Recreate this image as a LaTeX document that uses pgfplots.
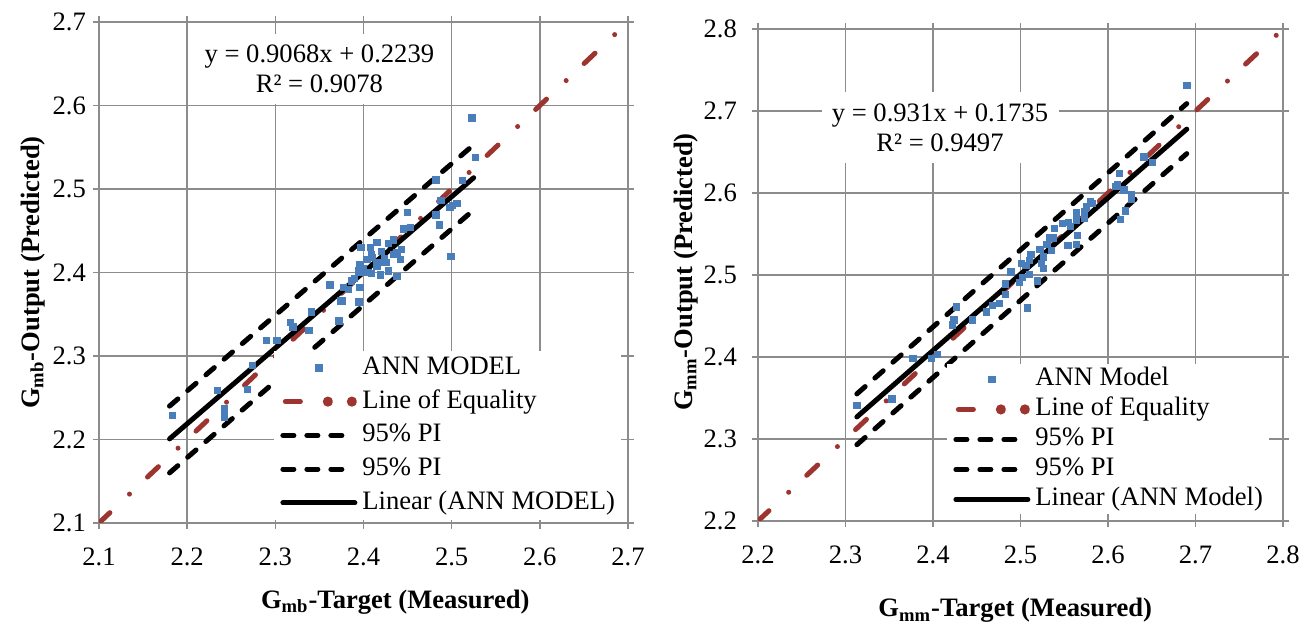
\documentclass[border=0pt]{standalone}
\usepackage{fontspec}
\setmainfont{Liberation Serif}
\usepackage{pgfplots}
\pgfplotsset{compat=1.18}
\definecolor{annblue}{RGB}{74,126,187}
\definecolor{eqred}{RGB}{158,52,48}
\definecolor{gridgray}{RGB}{140,140,140}
\newcommand{\fs}{\fontsize{13.3}{15}\selectfont}
\pgfplotsset{
  myaxis/.style={
    scale only axis,
    axis line style={gridgray, line width=0.7pt},
    grid=major, grid style={gridgray, line width=0.7pt},
    tick style={gridgray, line width=0.7pt},
    tick align=outside, major tick length=3pt,
    ticklabel style={font=\fs},
    xticklabel style={yshift=-6pt},
    label style={font=\fs},
    legend cell align=left,
  },
  annstyle/.style={only marks, mark=square*, mark size=1.6pt, color=annblue,
    legend image code/.code={\draw[##1] plot coordinates {(18pt,0pt)};}},
  eqstyle/.style={eqred, line width=2.5pt, line cap=round,
    dash pattern=on 7.5pt off 13.5pt on 0.01pt off 12.4pt,
    legend image code/.code={\draw[eqred, line width=2.5pt, line cap=round] (1.25pt,0pt) -- (11.5pt,0pt);
      \fill[eqred] (22.5pt,0pt) circle (1.2pt); \fill[eqred] (34.5pt,0pt) circle (1.2pt);}},
  pistyle/.style={black, line width=2.5pt, line cap=round, dash pattern=on 5.5pt off 6.5pt,
    legend image code/.code={\draw[##1] (0pt,0pt) -- (34pt,0pt);}},
  linstyle/.style={black, line width=2.5pt, line cap=round,
    legend image code/.code={\draw[##1] (0pt,0pt) -- (36pt,0pt);}},
}
\begin{document}
\begin{tikzpicture}
\useasboundingbox (0,0) rectangle (656.5pt,312.5pt);
% ---------------- left
\begin{axis}[myaxis,
  at={(49.5pt,51pt)}, anchor=south west,
  width=264.5pt, height=250.5pt,
  xmin=2.1, xmax=2.7, ymin=2.1, ymax=2.7,
  xtick={2.1,2.2,2.3,2.4,2.5,2.6,2.7}, xticklabels={2.1,2.2,2.3,2.4,2.5,2.6,2.7},
  ytick={2.1,2.2,2.3,2.4,2.5,2.6,2.7}, yticklabels={2.1,2.2,2.3,2.4,2.5,2.6,2.7},
  xlabel={\textbf{G\textsubscript{mb}-Target (Measured)}},
  ylabel={\textbf{G\textsubscript{mb}-Output (Predicted)}},
  xlabel style={at={(axis description cs:0.56,-0.1697)}, anchor=base},
  ylabel style={at={(axis description cs:-0.1134,0.5)}, anchor=base},
  legend style={at={(axis description cs:0.3308,0.3443)}, anchor=north west,
    draw=none, fill=white, font=\fs, inner xsep=3pt, inner ysep=0pt,
    column sep=2.5pt, row sep=0pt,
    nodes={inner xsep=0pt, inner ysep=1.7pt, text height=10pt, text depth=3.5pt}},
]
\addplot[annstyle] coordinates {
(2.183,2.229) (2.234,2.259) (2.242,2.237) (2.242,2.232) (2.242,2.227) (2.268,2.260)
(2.274,2.289) (2.290,2.319) (2.302,2.319) (2.317,2.340) (2.320,2.335) (2.338,2.331)
(2.341,2.353) (2.362,2.385) (2.372,2.342) (2.374,2.366) (2.376,2.366) (2.377,2.382)
(2.383,2.380) (2.395,2.365) (2.396,2.382) (2.394,2.402) (2.398,2.400) (2.396,2.410)
(2.404,2.416) (2.397,2.430) (2.408,2.430) (2.415,2.436) (2.409,2.422) (2.415,2.412)
(2.421,2.412) (2.426,2.412) (2.415,2.408) (2.428,2.402) (2.438,2.395) (2.428,2.435)
(2.434,2.439) (2.443,2.428) (2.438,2.424) (2.434,2.422) (2.442,2.416) (2.445,2.452)
(2.453,2.454) (2.450,2.472) (2.400,2.405) (2.405,2.400) (2.410,2.418) (2.420,2.425)
(2.419,2.397) (2.409,2.399) (2.424,2.417) (2.390,2.393) (2.386,2.390)
(2.482,2.511) (2.512,2.510) (2.488,2.486) (2.498,2.478) (2.506,2.483) (2.501,2.480)
(2.482,2.469) (2.486,2.457) (2.499,2.419) (2.523,2.585) (2.527,2.538)
};
\addlegendentry{ANN MODEL}
\addplot[eqstyle] coordinates {(2.1,2.1) (2.7,2.7)};
\addlegendentry{Line of Equality}
\addplot[pistyle] coordinates {(2.18,2.240) (2.525,2.553)};
\addlegendentry{95\% PI}
\addplot[pistyle] coordinates {(2.18,2.160) (2.525,2.475)};
\addlegendentry{95\% PI}
\addplot[linstyle] coordinates {(2.18,2.2007) (2.525,2.5135)};
\addlegendentry{Linear (ANN MODEL)}
\node[fill=white, align=center, font=\fs, inner sep=0pt, minimum width=125pt, minimum height=35pt]
  at (axis cs:2.350,2.6437) {y = 0.9068x + 0.2239\\R² = 0.9078};
\end{axis}
% ---------------- right
\begin{axis}[myaxis,
  at={(379pt,52pt)}, anchor=south west,
  width=262.5pt, height=246pt,
  xmin=2.2, xmax=2.8, ymin=2.2, ymax=2.8,
  xtick={2.2,2.3,2.4,2.5,2.6,2.7,2.8}, xticklabels={2.2,2.3,2.4,2.5,2.6,2.7,2.8},
  ytick={2.2,2.3,2.4,2.5,2.6,2.7,2.8}, yticklabels={2.2,2.3,2.4,2.5,2.6,2.7,2.8},
  yticklabel style={xshift=-4pt},
  xlabel={\textbf{G\textsubscript{mm}-Target (Measured)}},
  ylabel={\textbf{G\textsubscript{mm}-Output (Predicted)}},
  xlabel style={at={(axis description cs:0.49,-0.195)}, anchor=base},
  ylabel style={at={(axis description cs:-0.1257,0.506)}, anchor=base},
  legend style={at={(axis description cs:0.36,0.319)}, anchor=north west,
    draw=none, fill=white, font=\fs, inner xsep=3pt, inner ysep=0pt,
    column sep=2.5pt, row sep=0pt,
    nodes={inner xsep=0pt, inner ysep=0.75pt, text height=10pt, text depth=3.5pt}},
]
\addplot[annstyle] coordinates {
(2.313,2.341) (2.353,2.349) (2.377,2.398) (2.398,2.398) (2.405,2.403) (2.422,2.439)
(2.424,2.445) (2.427,2.461) (2.445,2.445) (2.461,2.455) (2.468,2.463) (2.476,2.465)
(2.508,2.460) (2.483,2.476) (2.483,2.489) (2.489,2.504) (2.499,2.491) (2.502,2.497)
(2.510,2.501) (2.519,2.493) (2.501,2.514) (2.506,2.512) (2.510,2.518) (2.512,2.525)
(2.524,2.514) (2.526,2.508) (2.522,2.531) (2.526,2.522) (2.535,2.530) (2.530,2.537)
(2.533,2.545) (2.537,2.545) (2.539,2.557) (2.548,2.563) (2.555,2.564) (2.557,2.559)
(2.554,2.536) (2.564,2.537) (2.565,2.548) (2.564,2.567) (2.573,2.569) (2.564,2.576)
(2.573,2.577) (2.575,2.583) (2.580,2.590) (2.582,2.587) (2.609,2.608) (2.611,2.610)
(2.613,2.624) (2.618,2.604) (2.627,2.598) (2.627,2.592) (2.620,2.578) (2.614,2.568)
(2.641,2.644) (2.651,2.637) (2.690,2.731)
};
\addlegendentry{ANN Model}
\addplot[eqstyle] coordinates {(2.2,2.2) (2.8,2.8)};
\addlegendentry{Line of Equality}
\addplot[pistyle] coordinates {(2.313,2.355) (2.690,2.709)};
\addlegendentry{95\% PI}
\addplot[pistyle] coordinates {(2.313,2.293) (2.690,2.648)};
\addlegendentry{95\% PI}
\addplot[linstyle] coordinates {(2.313,2.3269) (2.690,2.6779)};
\addlegendentry{Linear (ANN Model)}
\node[fill=white, align=center, font=\fs, inner sep=0pt, minimum width=118.5pt, minimum height=35.5pt]
  at (axis cs:2.408,2.680) {y = 0.931x + 0.1735\\R² = 0.9497};
\end{axis}
\end{tikzpicture}
\end{document}
